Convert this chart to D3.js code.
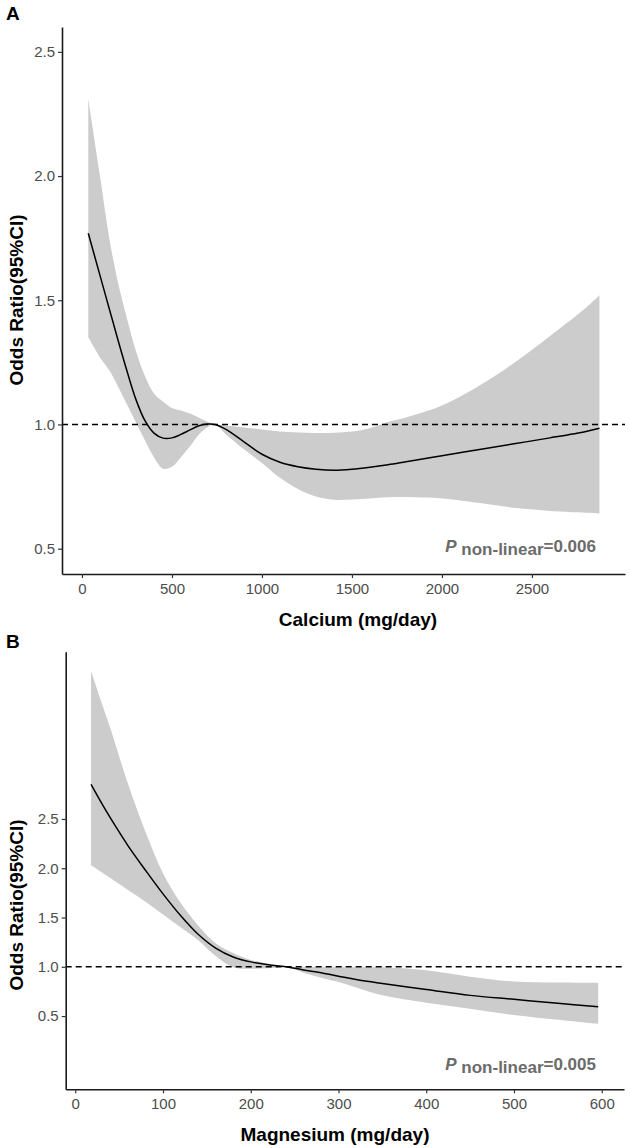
<!DOCTYPE html>
<html>
<head>
<meta charset="utf-8">
<script src="https://cdn.jsdelivr.net/npm/d3@7"></script>
<style>
  html, body { margin: 0; padding: 0; background: #ffffff; }
  svg { display: block; font-family: "Liberation Sans", Arial, Helvetica, sans-serif; }
</style>
</head>
<body>
<svg id="chart" width="630" height="1148"></svg>
<script>
// ---------- Panel A: Calcium ----------
const calciumX = [35, 100, 150, 200, 250, 300, 350, 400, 450, 500, 550, 600, 650, 700, 740, 800, 900, 1000, 1100, 1200, 1300, 1400, 1500, 1600, 1700, 1800, 1900, 2000, 2200, 2400, 2600, 2800, 2875];
const calciumOR = [1.77, 1.60, 1.47, 1.34, 1.215, 1.10, 1.015, 0.965, 0.945, 0.946, 0.96, 0.978, 0.995, 1.002, 1.0, 0.98, 0.93, 0.88, 0.848, 0.83, 0.82, 0.816, 0.82, 0.828, 0.838, 0.85, 0.862, 0.874, 0.898, 0.922, 0.946, 0.972, 0.985];
const calciumUpper = [2.31, 2.0, 1.757, 1.571, 1.427, 1.295, 1.195, 1.125, 1.092, 1.066, 1.056, 1.044, 1.027, 1.01, 1.0, 0.996, 0.988, 0.98, 0.972, 0.968, 0.966, 0.967, 0.972, 0.985, 1.01, 1.028, 1.05, 1.076, 1.153, 1.247, 1.356, 1.47, 1.52];
const calciumLower = [1.352, 1.27, 1.22, 1.153, 1.08, 1.008, 0.935, 0.868, 0.822, 0.83, 0.868, 0.912, 0.96, 0.99, 1.0, 0.96, 0.9, 0.845, 0.785, 0.74, 0.71, 0.697, 0.698, 0.702, 0.707, 0.708, 0.706, 0.702, 0.685, 0.665, 0.652, 0.645, 0.642];
const calciumXTicks = [0, 500, 1000, 1500, 2000, 2500];
const calciumYTicks = [0.5, 1.0, 1.5, 2.0, 2.5];

// ---------- Panel B: Magnesium ----------
const magnesiumX = [18, 30, 40, 60, 80, 100, 120, 140, 160, 180, 200, 220, 240, 260, 280, 300, 320, 350, 400, 450, 500, 550, 596];
const magnesiumOR = [2.85, 2.66, 2.51, 2.23, 1.98, 1.74, 1.52, 1.33, 1.19, 1.10, 1.05, 1.02, 1.0, 0.968, 0.94, 0.905, 0.87, 0.83, 0.77, 0.71, 0.67, 0.63, 0.594];
const magnesiumUpper = [4.0, 3.68, 3.42, 2.86, 2.37, 1.95, 1.65, 1.42, 1.24, 1.14, 1.07, 1.03, 1.0, 0.997, 0.995, 0.995, 0.995, 0.995, 0.965, 0.9, 0.85, 0.84, 0.838];
const magnesiumLower = [2.03, 1.96, 1.90, 1.78, 1.66, 1.53, 1.40, 1.27, 1.11, 0.995, 0.98, 0.985, 1.0, 0.94, 0.89, 0.845, 0.79, 0.71, 0.635, 0.575, 0.51, 0.462, 0.42];
const magnesiumXTicks = [0, 100, 200, 300, 400, 500, 600];
const magnesiumYTicks = [0.5, 1.0, 1.5, 2.0, 2.5];

const panels = [
  { label: "A", xTitle: "Calcium (mg/day)", pText: "=0.006",
    x: calciumX, or: calciumOR, lo: calciumLower, hi: calciumUpper,
    xTicks: calciumXTicks, yTicks: calciumYTicks,
    xDomain: [-111, 3017], yDomain: [0.398, 2.6],
    left: 62, right: 625, top: 27, bottom: 574,
    labelY: 20, xTitleX: 358, yTitleY: 300, pY: 552 },
  { label: "B", xTitle: "Magnesium (mg/day)", pText: "=0.005",
    x: magnesiumX, or: magnesiumOR, lo: magnesiumLower, hi: magnesiumUpper,
    xTicks: magnesiumXTicks, yTicks: magnesiumYTicks,
    xDomain: [-10.9, 625.4], yDomain: [-0.243, 4.197],
    left: 65.7, right: 624, top: 651.7, bottom: 1089.3,
    labelY: 648, xTitleX: 335, yTitleY: 905, pY: 1070 }
];

const svg = d3.select("#chart");

panels.forEach(p => {
  const xs = d3.scaleLinear().domain(p.xDomain).range([p.left, p.right]);
  const ys = d3.scaleLinear().domain(p.yDomain).range([p.bottom, p.top]);
  const g = svg.append("g");
  const rows = p.x.map((v, i) => ({ x: v, or: p.or[i], lo: p.lo[i], hi: p.hi[i] }));
  const curve = d3.curveCatmullRom.alpha(0.5);

  // CI band
  g.append("path")
    .datum(rows)
    .attr("fill", "#cccccc")
    .attr("stroke", "none")
    .attr("d", d3.area().curve(curve)
      .x(d => xs(d.x)).y0(d => ys(d.lo)).y1(d => ys(d.hi)));

  // reference line OR = 1
  g.append("line")
    .attr("x1", p.left).attr("x2", p.right)
    .attr("y1", ys(1)).attr("y2", ys(1))
    .attr("stroke", "#000").attr("stroke-width", 1.5)
    .attr("stroke-dasharray", "6,4");

  // OR curve
  g.append("path")
    .datum(rows)
    .attr("fill", "none")
    .attr("stroke", "#000")
    .attr("stroke-width", 1.5)
    .attr("d", d3.line().curve(curve)
      .x(d => xs(d.x)).y(d => ys(d.or)));

  // axes
  const xAxis = g.append("g")
    .attr("transform", `translate(0,${p.bottom})`)
    .call(d3.axisBottom(xs).tickValues(p.xTicks).tickFormat(d3.format("d"))
      .tickSizeInner(4).tickSizeOuter(0).tickPadding(5));
  const yAxis = g.append("g")
    .attr("transform", `translate(${p.left},0)`)
    .call(d3.axisLeft(ys).tickValues(p.yTicks).tickFormat(d3.format(".1f"))
      .tickSizeInner(4).tickSizeOuter(0).tickPadding(3));

  [xAxis, yAxis].forEach(a => {
    a.select(".domain").attr("stroke", "#1a1a1a").attr("stroke-width", 1.6);
    a.selectAll(".tick line").attr("stroke", "#333333").attr("stroke-width", 1.2);
    a.selectAll(".tick text")
      .attr("fill", "#4d4d4d")
      .style("font-size", "15px")
      .style("font-family", "'Liberation Sans', Arial, sans-serif");
  });

  // axis titles
  g.append("text")
    .attr("x", p.xTitleX)
    .attr("y", p.bottom + 52)
    .attr("text-anchor", "middle")
    .style("font-size", "19px").style("font-weight", "bold")
    .attr("fill", "#000")
    .text(p.xTitle);

  g.append("text")
    .attr("transform", `translate(23,${p.yTitleY}) rotate(-90)`)
    .attr("text-anchor", "middle")
    .style("font-size", "19px").style("font-weight", "bold")
    .attr("fill", "#000")
    .text("Odds Ratio(95%CI)");

  // panel label
  g.append("text")
    .attr("x", 6).attr("y", p.labelY)
    .style("font-size", "19px").style("font-weight", "bold")
    .attr("fill", "#000")
    .text(p.label);

  // P annotation
  const t = g.append("text")
    .attr("x", 596).attr("y", p.pY)
    .attr("text-anchor", "end")
    .attr("fill", "#6b6b6b")
    .style("font-size", "17px").style("font-weight", "bold");
  t.append("tspan").style("font-style", "italic").text("P");
  t.append("tspan").attr("dy", 2.5).text(" non-linear");
  t.append("tspan").attr("dy", -2.5).text(p.pText);
});
</script>
</body>
</html>
